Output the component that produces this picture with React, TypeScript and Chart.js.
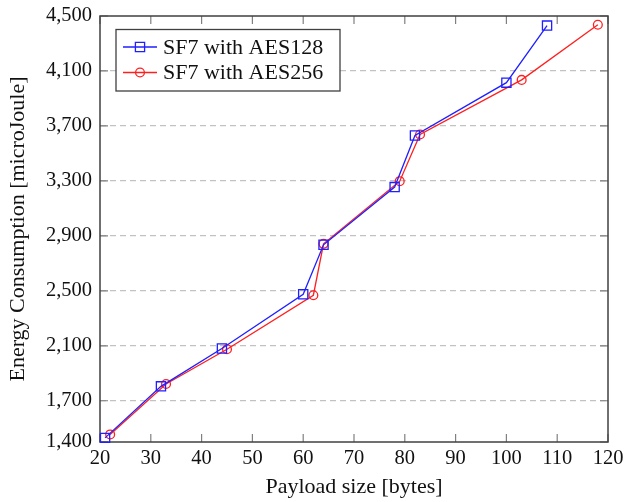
import React, { useEffect, useRef } from "react";
import { Chart, registerables } from "chart.js";

Chart.register(...registerables);

const payloadAES128 = [21, 32, 44, 60, 64, 78, 82, 100, 108];
const energyAES128 = [1430, 1805, 2080, 2475, 2835, 3255, 3630, 4015, 4430];
const payloadAES256 = [22, 33, 45, 62, 64, 79, 83, 103, 118];
const energyAES256 = [1455, 1822, 2075, 2468, 2842, 3298, 3638, 4035, 4436];

const xTicks = [20, 30, 40, 50, 60, 70, 80, 90, 100, 110, 120];
const yTicks = [1400, 1700, 2100, 2500, 2900, 3300, 3700, 4100, 4500];

const seriesLabels = ["SF7 with AES128", "SF7 with AES256"];

const FONT = "'Liberation Serif', 'Times New Roman', serif";

const framePlugin = {
  id: "frame",
  beforeDatasetsDraw(chart: any) {
    const { ctx, chartArea: a, scales } = chart;
    ctx.save();
    ctx.strokeStyle = "#808080";
    ctx.lineWidth = 1.2;
    const tl = 8;
    scales.x.ticks.forEach((t: any) => {
      const px = scales.x.getPixelForValue(t.value);
      ctx.beginPath();
      ctx.moveTo(px, a.bottom);
      ctx.lineTo(px, a.bottom - tl);
      ctx.moveTo(px, a.top);
      ctx.lineTo(px, a.top + tl);
      ctx.stroke();
    });
    scales.y.ticks.forEach((t: any) => {
      const py = scales.y.getPixelForValue(t.value);
      ctx.beginPath();
      ctx.moveTo(a.left, py);
      ctx.lineTo(a.left + tl, py);
      ctx.moveTo(a.right, py);
      ctx.lineTo(a.right - tl, py);
      ctx.stroke();
    });
    ctx.strokeStyle = "#404040";
    ctx.lineWidth = 1.5;
    ctx.strokeRect(a.left, a.top, a.right - a.left, a.bottom - a.top);
    ctx.restore();
  },
};

const legendPlugin = {
  id: "boxLegend",
  afterDraw(chart: any) {
    const { ctx } = chart;
    const bx = 116, by = 29.5, bw = 224, bh = 61.5;
    ctx.save();
    ctx.fillStyle = "#ffffff";
    ctx.fillRect(bx, by, bw, bh);
    ctx.strokeStyle = "#404040";
    ctx.lineWidth = 1.3;
    ctx.strokeRect(bx, by, bw, bh);
    const rows = [47, 72.5];
    chart.data.datasets.forEach((ds: any, i: number) => {
      const y = rows[i];
      ctx.strokeStyle = ds.borderColor;
      ctx.lineWidth = ds.borderWidth;
      ctx.beginPath();
      ctx.moveTo(123, y);
      ctx.lineTo(157, y);
      ctx.stroke();
      ctx.beginPath();
      if (ds.pointStyle === "rect") {
        const s = ds.pointRadius * Math.SQRT1_2;
        ctx.rect(140 - s, y - s, 2 * s, 2 * s);
      } else {
        ctx.arc(140, y, ds.pointRadius, 0, Math.PI * 2);
      }
      ctx.stroke();
      ctx.fillStyle = "#111";
      ctx.font = `22px ${FONT}`;
      ctx.textBaseline = "middle";
      ctx.textAlign = "left";
      ctx.fillText(ds.label, 163, y + 1);
    });
    ctx.restore();
  },
};

export default function App() {
  const ref = useRef<HTMLCanvasElement>(null);
  useEffect(() => {
    if (!ref.current) return;
    const chart = new Chart(ref.current, {
      type: "scatter",
      data: {
        datasets: [
          {
            label: seriesLabels[0],
            data: payloadAES128.map((x, i) => ({ x, y: energyAES128[i] })),
            showLine: true,
            borderColor: "#1f1fff",
            backgroundColor: "transparent",
            borderWidth: 1.3,
            pointStyle: "rect",
            pointRadius: 6.5,
            pointBorderWidth: 1.3,
            pointBorderColor: "#1f1fff",
            pointBackgroundColor: "transparent",
            clip: false,
          } as any,
          {
            label: seriesLabels[1],
            data: payloadAES256.map((x, i) => ({ x, y: energyAES256[i] })),
            showLine: true,
            borderColor: "#ff1f1f",
            backgroundColor: "transparent",
            borderWidth: 1.3,
            pointStyle: "circle",
            pointRadius: 4.4,
            pointBorderWidth: 1.3,
            pointBorderColor: "#ff1f1f",
            pointBackgroundColor: "transparent",
            clip: false,
          } as any,
        ],
      },
      options: {
        animation: false,
        responsive: false,
        layout: { padding: { left: 0, right: 16, top: 16, bottom: 0 } },
        plugins: { legend: { display: false }, tooltip: { enabled: false } },
        scales: {
          x: {
            type: "linear",
            min: 20,
            max: 120,
            afterBuildTicks: (s: any) => {
              s.ticks = xTicks.map((v) => ({ value: v }));
            },
            afterFit: (s: any) => {
              s.height = 60;
              s.paddingLeft = 0;
              s.paddingRight = 0;
            },
            grid: { display: false, drawTicks: false },
            border: { display: false },
            ticks: {
              padding: 4,
              maxRotation: 0,
              autoSkip: false,
              color: "#111",
              font: { family: FONT, size: 20.5 },
              callback: (v: any) => String(v),
            },
            title: {
              display: true,
              text: "Payload size [bytes]",
              color: "#111",
              font: { family: FONT, size: 22 },
              padding: { top: 0, bottom: 2 },
            },
          },
          y: {
            type: "linear",
            min: 1400,
            max: 4500,
            afterBuildTicks: (s: any) => {
              s.ticks = yTicks.map((v) => ({ value: v }));
            },
            afterFit: (s: any) => {
              s.width = 100;
              s.paddingTop = 0;
              s.paddingBottom = 0;
            },
            grid: {
              drawTicks: false,
              lineWidth: 1.2,
              color: (c: any) =>
                c.tick && (c.tick.value === 1400 || c.tick.value === 4500)
                  ? "rgba(0,0,0,0)"
                  : "#c2c2c2",
            },
            border: { display: false, dash: [6, 4] },
            ticks: {
              padding: 8,
              autoSkip: false,
              color: "#111",
              font: { family: FONT, size: 20.5 },
              callback: (v: any) => Number(v).toLocaleString("en-US"),
            },
            title: {
              display: true,
              text: "Energy Consumption [microJoule]",
              color: "#111",
              font: { family: FONT, size: 22 },
              padding: { top: 5, bottom: 0 },
            },
          },
        },
      },
      plugins: [framePlugin, legendPlugin],
    });
    return () => chart.destroy();
  }, []);
  return (
    <div style={{ position: "absolute", left: 0, top: 0, width: 624, height: 502, background: "#fff" }}>
      <canvas ref={ref} width={624} height={502} style={{ width: 624, height: 502 }} />
    </div>
  );
}
